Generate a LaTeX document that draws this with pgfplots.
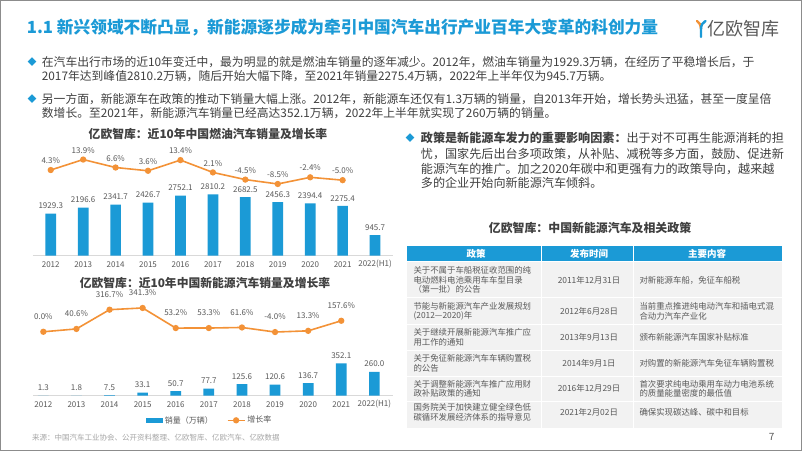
\documentclass[border=0pt]{standalone}
\usepackage{fontspec}
\setmainfont{Noto Sans CJK SC}
\usepackage{pgfplots}
\pgfplotsset{compat=1.18}
\definecolor{tblue}{HTML}{1B9AD6}
\definecolor{torange}{HTML}{F39237}
\definecolor{tgray}{HTML}{404040}
\definecolor{lgray}{HTML}{595959}
\definecolor{sgray}{HTML}{A6A6A6}
\definecolor{rowgray}{HTML}{F2F2F2}
\newcommand{\fs}[1]{\fontsize{#1}{#1}\selectfont}
\pgfplotsset{
  barax/.style={scale only axis, ybar, clip=false, axis y line=none, axis x line*=bottom,
    x axis line style={draw=black!15, line width=0.8pt}, major tick length=0pt,
    xtick={0,...,10}, xticklabels={2012,2013,2014,2015,2016,2017,2018,2019,2020,2021,2022(H1)},
    xticklabel style={font=\fs{8}, text=lgray, anchor=center, inner sep=0pt, yshift=-8.6pt},
    ymin=0},
  barplot/.style={fill=tblue, draw=none, bar width=10.7pt, nodes near coords, point meta=explicit symbolic,
    nodes near coords style={font=\fs{8}, text=lgray, anchor=south, inner sep=0pt, yshift=4.5pt}},
  lineax/.style={scale only axis, clip=false, axis x line=none, axis y line=none},
  lineplot/.style={torange, line width=1.6pt, mark=*, mark size=2.3pt, mark options={fill=torange, draw=torange},
    nodes near coords={\pgfplotspointmeta\%}, point meta=explicit symbolic,
    nodes near coords style={font=\fs{8}, text=lgray, anchor=south, inner sep=0pt, yshift=5.5pt}},
}
\begin{document}
\begin{tikzpicture}[x=1pt,y=1pt]
\path[use as bounding box] (0pt,0pt) rectangle (802pt,451pt);
\fill[white] (0,0) rectangle (802,451);
\draw[black!45, line width=1.2pt] (0.6,0.6) rectangle (801.4,450.4);
% title
\node[anchor=west, inner sep=0pt, text=tblue, font=\fs{16.7}\bfseries] at (26.7,451-28) {1.1 新兴领域不断凸显，新能源逐步成为牵引中国汽车出行产业百年大变革的科创力量};
% logo
\draw[torange, line width=2.4pt, line cap=round] (697,451-21) .. controls (699.5,451-22) and (700.5,451-25) .. (701,451-29);
\draw[tblue, line width=2.4pt, line cap=round] (705.5,451-21) .. controls (703,451-22) and (701,451-25) .. (701,451-29) -- (701,451-37);
\node[anchor=west, inner sep=0pt, text=black!65, font=\fs{18}] at (707.5,451-29) {亿欧智库};
% body text
\begin{scope}[every node/.style={anchor=west, inner sep=0pt, text=tgray, font=\fs{11.8}}]
\node[text=tblue, font=\fs{9}] at (27.5,451-61.7) {◆};
\node at (41.7,451-61.7) {在汽车出行市场的近10年变迁中，最为明显的就是燃油车销量的逐年减少。2012年，燃油车销量为1929.3万辆，在经历了平稳增长后，于};
\node at (41.7,451-76) {2017年达到峰值2810.2万辆，随后开始大幅下降，至2021年销量2275.4万辆，2022年上半年仅为945.7万辆。};
\node[text=tblue, font=\fs{9}] at (27.5,451-99.3) {◆};
\node at (41.7,451-99.3) {另一方面，新能源车在政策的推动下销量大幅上涨。2012年，新能源车还仅有1.3万辆的销量，自2013年开始，增长势头迅猛，甚至一度呈倍};
\node at (41.7,451-113.3) {数增长。至2021年，新能源汽车销量已经高达352.1万辆，2022年上半年就实现了260万辆的销量。};
\end{scope}
\begin{scope}[every node/.style={anchor=west, inner sep=0pt, text=tgray, font=\fs{12.1}}]
\node[text=tblue, font=\fs{9}] at (405.5,451-138.3) {◆};
\node at (420.7,451-138.3) {\textbf{政策是新能源车发力的重要影响因素：}出于对不可再生能源消耗的担};
\node at (420.7,451-154) {忧，国家先后出台多项政策，从补贴、减税等多方面，鼓励、促进新};
\node at (420.7,451-169) {能源汽车的推广。加之2020年碳中和更强有力的政策导向，越来越};
\node at (420.7,451-183.3) {多的企业开始向新能源汽车倾斜。};
\end{scope}
% chart titles
\node[inner sep=0pt, text=tgray, font=\fs{11.8}\bfseries] at (208,451-134) {亿欧智库：近10年中国燃油汽车销量及增长率};
\node[inner sep=0pt, text=tgray, font=\fs{11.8}\bfseries] at (205,451-283) {亿欧智库：近10年中国新能源汽车销量及增长率};
\node[inner sep=0pt, text=tgray, font=\fs{11.9}\bfseries] at (590,451-228.3) {亿欧智库：中国新能源汽车及相关政策};
% chart 1 bars
\begin{axis}[barax, at={(32.9pt,195.3pt)}, anchor=south west, width=360pt, height=65.55pt,
  xmin=-0.55, xmax=10.55, ymax=3000]
\addplot[barplot] table[x=x, y=y, meta=l] {
x y l
0 1929.3 1929.3
1 2196.6 2196.6
2 2341.7 2341.7
3 2426.7 2426.7
4 2752.1 2752.1
5 2810.2 2810.2
6 2682.5 2682.5
7 2456.3 2456.3
8 2394.4 2394.4
9 2275.4 2275.4
10 945.7 945.7
};
\end{axis}
% chart 1 line
\begin{axis}[lineax, at={(32.9pt,265.4pt)}, anchor=south west, width=360pt, height=27.25pt,
  xmin=-0.55, xmax=10.55, ymin=-10, ymax=15]
\addplot[lineplot] table[x=x, y=y, meta=l] {
x y l
0 4.3 4.3
1 13.9 13.9
2 6.6 6.6
3 3.6 3.6
4 13.4 13.4
5 2.1 2.1
6 -4.5 -4.5
7 -8.5 -8.5
8 -2.4 -2.4
9 -5.0 -5.0
};
\end{axis}
% chart 2 bars
\begin{axis}[barax, at={(33.4pt,55.3pt)}, anchor=south west, width=359.5pt, height=36.8pt,
  xmin=-0.3, xmax=10.56, ymax=400]
\addplot[barplot] table[x=x, y=y, meta=l] {
x y l
0 1.3 1.3
1 1.8 1.8
2 7.5 7.5
3 33.1 33.1
4 50.7 50.7
5 77.7 77.7
6 125.6 125.6
7 120.6 120.6
8 136.7 136.7
9 352.1 352.1
10 260.0 260.0
};
\end{axis}
% chart 2 line
\begin{axis}[lineax, at={(33.4pt,117.85pt)}, anchor=south west, width=359.5pt, height=26.5pt,
  xmin=-0.3, xmax=10.56, ymin=-20, ymax=360,
  legend style={at={(0.491,-3.29)}, anchor=center, draw=none, fill=none, font=\fs{8}, text=lgray,
    legend columns=2, /tikz/every even column/.append style={column sep=12pt}, inner sep=0pt}]
\addlegendimage{legend image code/.code={\fill[tblue] (0pt,-2.3pt) rectangle (16pt,2.3pt);}}
\addlegendentry{销量（万辆）}
\addplot[lineplot, nodes near coords style={yshift=6pt}] table[x=x, y=y, meta=l] {
x y l
0 0 0.0
1 40.6 40.6
2 316.7 316.7
3 341.3 341.3
4 53.2 53.2
5 53.3 53.3
6 61.6 61.6
7 -4.0 -4.0
8 13.3 13.3
9 157.6 157.6
};
\addlegendentry{增长率}
\end{axis}
% source
\node[anchor=west, inner sep=0pt, text=sgray, font=\fs{7.5}] at (32,451-437.7) {来源：中国汽车工业协会、公开资料整理、亿欧智库、亿欧汽车、亿欧数据};
% table
\fill[rowgray] (407.3,451-261.7) rectangle (781.7,451-427.7);
\fill[tblue] (407.3,451-245.7) rectangle (781.7,451-261.7);
\foreach \yy in {261.7,297,324,350,376,401}{\draw[white, line width=1pt] (407.3,451-\yy) -- (781.7,451-\yy);}
\draw[white, line width=1pt] (541.7,451-245.7) -- (541.7,451-427.7);
\draw[white, line width=1pt] (633.3,451-245.7) -- (633.3,451-427.7);
\begin{scope}[every node/.style={inner sep=0pt, text=white, font=\fs{9.5}\bfseries}]
\node at (476,451-253.7) {政策};
\node at (589,451-253.7) {发布时间};
\node at (707,451-253.7) {主要内容};
\end{scope}
\begin{scope}[every node/.style={inner sep=0pt, text=lgray, font=\fontsize{8.4}{9.7}\selectfont, align=left}]
\node[anchor=west] at (413.3,451-280) {关于不属于车船税征收范围的纯\\电动燃料电池乘用车车型目录\\（第一批）的公告};
\node at (589,451-280) {2011年12月31日};
\node[anchor=west] at (639.3,451-280) {对新能源车船，免征车船税};
\node[anchor=west] at (413.3,451-311.2) {节能与新能源汽车产业发展规划\\(2012—2020)年};
\node at (589,451-311.2) {2012年6月28日};
\node[anchor=west] at (639.3,451-311.2) {当前重点推进纯电动汽车和插电式混\\合动力汽车产业化};
\node[anchor=west] at (413.3,451-337.2) {关于继续开展新能源汽车推广应\\用工作的通知};
\node at (589,451-337.2) {2013年9月13日};
\node[anchor=west] at (639.3,451-337.2) {颁布新能源汽车国家补贴标准};
\node[anchor=west] at (413.3,451-363) {关于免征新能源汽车车辆购置税\\的公告};
\node at (589,451-363) {2014年9月1日};
\node[anchor=west] at (639.3,451-363) {对购置的新能源汽车免征车辆购置税};
\node[anchor=west] at (413.3,451-388.7) {关于调整新能源汽车推广应用财\\政补贴政策的通知};
\node at (589,451-388.7) {2016年12月29日};
\node[anchor=west] at (639.3,451-388.7) {首次要求纯电动乘用车动力电池系统\\的质量能量密度的最低值};
\node[anchor=west] at (413.3,451-412.5) {国务院关于加快建立健全绿色低\\碳循环发展经济体系的指导意见};
\node at (589,451-412.5) {2021年2月02日};
\node[anchor=west] at (639.3,451-412.5) {确保实现碳达峰、碳中和目标};
\end{scope}
\node[inner sep=0pt, text=lgray, font=\fs{10}] at (771.7,451-436.7) {7};
\end{tikzpicture}
\end{document}
